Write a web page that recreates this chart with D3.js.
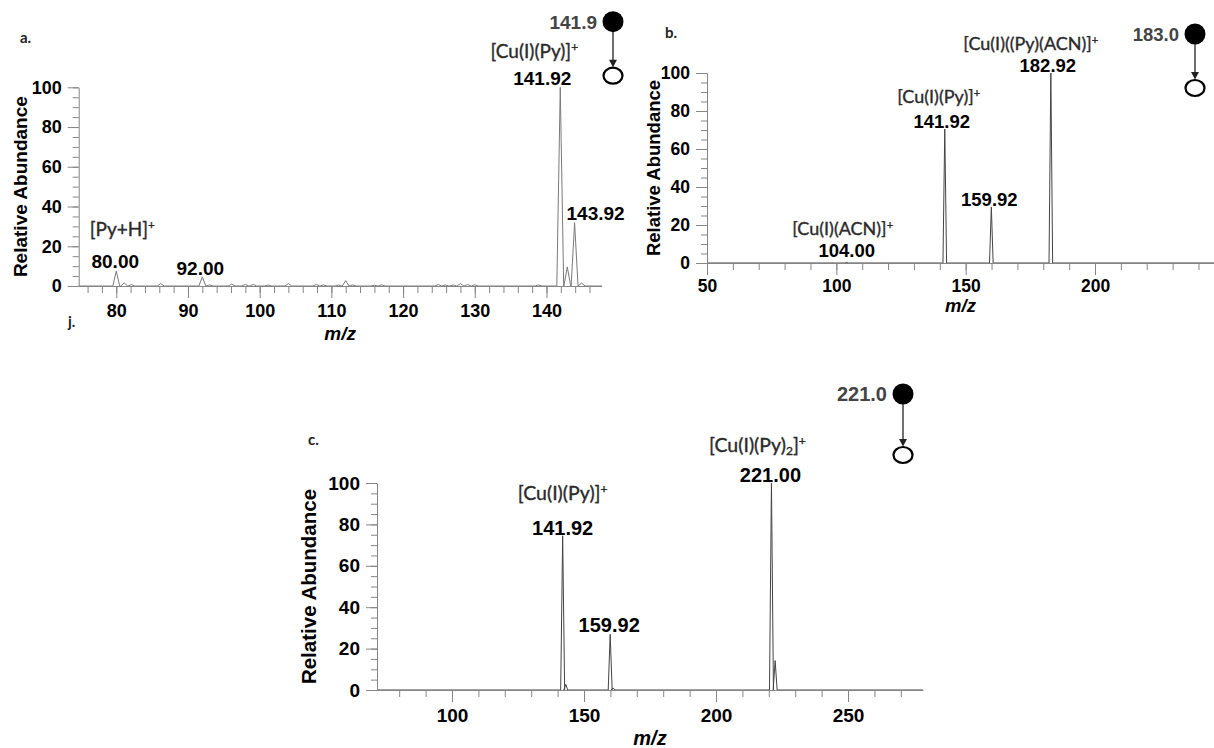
<!DOCTYPE html>
<html>
<head>
<meta charset="utf-8">
<script src="https://cdn.jsdelivr.net/npm/d3@7"></script>
<style>
  body { margin: 0; background: #fff; }
  svg { display: block; }
</style>
</head>
<body>
<svg id="chart" width="1214" height="748"></svg>
<script>
// ---- panel a : MS/MS of m/z 141.9 ----
const mzA = [80.0, 81.1, 82.1, 86.2, 92.0, 93.0, 96.1, 98.0, 99.1, 101.2, 104.0, 107.9, 108.9, 111.0, 112.0, 113.0, 116.0, 117.0, 124.9, 125.9, 127.0, 128.0, 129.0, 130.0, 138.9, 141.92, 142.9, 143.92, 144.9]
const intA = [7.5, 1.5, 0.7, 1.2, 4.6, 0.5, 1.0, 0.8, 0.8, 0.5, 1.2, 0.8, 0.5, 0.5, 2.7, 0.5, 0.4, 0.6, 0.8, 0.5, 0.5, 1.2, 0.8, 0.6, 0.5, 100, 9.6, 31.9, 1.5]
const tagMzA = [80.0, 92.0, 141.92, 143.92]
const tagIntA = [7.5, 4.6, 100, 31.9]
const tagTextA = ['80.00', '92.00', '141.92', '143.92']
const ionTextA = ['[Py+H]^+', '', '[Cu(I)(Py)]^+', '']

// ---- panel b : MS/MS of m/z 183.0 ----
const mzB = [104.0, 141.92, 159.92, 182.92]
const intB = [0.3, 70.5, 29.5, 100]
const tagMzB = [104.0, 141.92, 159.92, 182.92]
const tagIntB = [0.3, 70.5, 29.5, 100]
const tagTextB = ['104.00', '141.92', '159.92', '182.92']
const ionTextB = ['[Cu(I)(ACN)]^+', '[Cu(I)(Py)]^+', '', '[Cu(I)((Py)(ACN)]^+']

// ---- panel c : MS/MS of m/z 221.0 ----
const mzC = [141.92, 143.1, 159.92, 161.0, 221.0, 222.4]
const intC = [74.5, 2.7, 26.9, 1.0, 100, 14.2]
const tagMzC = [141.92, 159.92, 221.0]
const tagIntC = [74.5, 26.9, 100]
const tagTextC = ['141.92', '159.92', '221.00']
const ionTextC = ['[Cu(I)(Py)]^+', '', '[Cu(I)(Py)_2]^+']

const precursors = ['141.9', '183.0', '221.0']
const yTicks = [0, 20, 40, 60, 80, 100]

const svg = d3.select('#chart')
const NUM_FONT = '"Liberation Sans", Arial, sans-serif'
const ION_FONT = 'Lato, "Open Sans", sans-serif'

// text with ^x superscript and _x subscript pieces
function richText (sel, s) {
  s.split(/(\^.|_.)/).filter(p => p !== '').forEach(p => {
    if (p[0] === '^') {
      sel.append('tspan').attr('font-size', '0.62em').attr('baseline-shift', '55%').text(p[1])
    } else if (p[0] === '_') {
      sel.append('tspan').attr('font-size', '0.62em').attr('baseline-shift', '-25%').text(p[1])
    } else {
      sel.append('tspan').text(p)
    }
  })
}

function drawPanel (set) {
  const g = svg.append('g')
  const x = d3.scaleLinear().domain(set.xDomain).range([set.left, set.right])
  const y = d3.scaleLinear().domain([0, 100]).range([set.bottom, set.top])

  // spectrum trace
  const pts = [[set.xDomain[0], 0]]
  set.mz.forEach((m, i) => {
    pts.push([m - set.hw, 0], [m, set.int[i]], [m + set.hw, 0])
  })
  pts.push([set.xDomain[1], 0])
  const line = d3.line().x(d => x(d[0])).y(d => y(d[1]))
  g.append('path')
    .attr('d', line(pts))
    .attr('fill', 'none')
    .attr('stroke', set.traceColor)
    .attr('stroke-width', 1)

  // axes
  const axisColor = '#858585'
  const xMinor = g.append('g')
    .attr('transform', `translate(0,${set.bottom})`)
    .call(d3.axisBottom(x).tickValues(set.xMinor).tickSize(7).tickFormat(''))
  xMinor.select('.domain').remove()
  const xMajor = g.append('g')
    .attr('transform', `translate(0,${set.bottom})`)
    .call(d3.axisBottom(x).tickValues(set.xMajor).tickSize(12).tickSizeOuter(0).tickPadding(set.xPad))
  const yMinor = g.append('g')
    .attr('transform', `translate(${set.left},0)`)
    .call(d3.axisLeft(y).tickValues(d3.range(0, 101, 5)).tickSize(6).tickFormat(''))
  yMinor.select('.domain').remove()
  const yMajor = g.append('g')
    .attr('transform', `translate(${set.left},0)`)
    .call(d3.axisLeft(y).tickValues(yTicks).tickSize(11).tickSizeOuter(0).tickPadding(6))

  g.selectAll('.domain, .tick line').attr('stroke', axisColor).attr('stroke-width', 1)
  ;[xMajor, yMajor].forEach(a => a.selectAll('text')
    .attr('fill', '#000')
    .style('font-family', NUM_FONT)
    .style('font-weight', 'bold')
    .style('font-size', set.tickFont + 'px'))

  // axis titles
  g.append('text')
    .attr('x', (set.left + set.right) / 2)
    .attr('y', set.xTitleY)
    .attr('text-anchor', 'middle')
    .style('font-family', NUM_FONT)
    .style('font-weight', 'bold')
    .style('font-style', 'italic')
    .style('font-size', set.tickFont + 1 + 'px')
    .text('m/z')
  g.append('text')
    .attr('transform', `translate(${set.yTitleX},${(set.top + set.bottom) / 2}) rotate(-90)`)
    .attr('text-anchor', 'middle')
    .attr('dy', '0.36em')
    .style('font-family', NUM_FONT)
    .style('font-weight', 'bold')
    .style('font-size', set.yTitleFont + 'px')
    .text('Relative Abundance')

  // peak labels
  set.tagMz.forEach((m, i) => {
    const off = set.tagOffset[i]
    const tx = x(m) + off[0]
    const ty = y(set.tagInt[i]) + off[1]
    g.append('text')
      .attr('x', tx).attr('y', ty)
      .attr('text-anchor', 'middle')
      .style('font-family', NUM_FONT)
      .style('font-weight', 'bold')
      .style('font-size', set.tagFont + 'px')
      .text(set.tagText[i])
    if (set.ionText[i]) {
      const t = g.append('text')
        .attr('x', tx + off[2]).attr('y', ty - off[3])
        .attr('text-anchor', 'middle')
        .attr('fill', '#2a2a2a')
        .attr('stroke', '#2a2a2a')
        .attr('stroke-width', 0.35)
        .style('font-family', ION_FONT)
        .style('font-size', set.ionFont + 'px')
      richText(t, set.ionText[i])
    }
  })

  // panel letter
  g.append('text')
    .attr('x', set.letterPos[0]).attr('y', set.letterPos[1])
    .style('font-family', ION_FONT)
    .style('font-weight', 'bold')
    .style('font-size', '15px')
    .attr('fill', '#222')
    .text(set.letter)

  // precursor -> product symbol
  const [cx, cy] = set.marker
  g.append('text')
    .attr('x', cx - 16).attr('y', cy)
    .attr('dy', '0.36em')
    .attr('text-anchor', 'end')
    .attr('fill', '#444')
    .style('font-family', NUM_FONT)
    .style('font-weight', 'bold')
    .style('font-size', set.tagFont + 'px')
    .text(set.precursor)
  g.append('circle').attr('cx', cx).attr('cy', cy).attr('r', 10.5).attr('fill', '#000')
  const oy = cy + set.markerGap
  g.append('line')
    .attr('x1', cx).attr('x2', cx)
    .attr('y1', cy + 10).attr('y2', oy - 14)
    .attr('stroke', '#222').attr('stroke-width', 1.3)
  g.append('path')
    .attr('d', `M${cx - 4},${oy - 16}L${cx + 4},${oy - 16}L${cx},${oy - 8.5}Z`)
    .attr('fill', '#222')
  g.append('ellipse')
    .attr('cx', cx).attr('cy', oy).attr('rx', 9.5).attr('ry', 8)
    .attr('fill', '#fff').attr('stroke', '#000').attr('stroke-width', 2.2)
}

drawPanel({
  mz: mzA, int: intA, hw: 0.48, traceColor: '#7a7a7a',
  xDomain: [74.76, 147.7], left: 78.7, right: 601.7, top: 87.3, bottom: 286,
  xMajor: d3.range(80, 141, 10), xMinor: d3.range(76, 147, 2), xPad: 6,
  tickFont: 18, yTitleFont: 19, yTitleX: 20, xTitleY: 340,
  tagMz: tagMzA, tagInt: tagIntA, tagText: tagTextA, ionText: ionTextA,
  tagOffset: [[-1, -3, 7, 32], [-2, -2, 0, 0], [-18, -2, -8, 27], [21, -3, 0, 0]],
  tagFont: 19, ionFont: 19,
  letter: 'a.', letterPos: [20, 43],
  precursor: precursors[0], marker: [613, 21.7], markerGap: 54
})

drawPanel({
  mz: mzB, int: intB, hw: 0.7, traceColor: '#444',
  xDomain: [50, 246], left: 707, right: 1214, top: 73, bottom: 263,
  xMajor: [50, 100, 150, 200], xMinor: d3.range(60, 246, 10), xPad: 5,
  tickFont: 17.5, yTitleFont: 18.5, yTitleX: 653, xTitleY: 312,
  tagMz: tagMzB, tagInt: tagIntB, tagText: tagTextB, ionText: ionTextB,
  tagOffset: [[0, -5, -4, 22], [-3, -1, -3, 25], [-2, -1, 0, 0], [-3, -1, -17, 22]],
  tagFont: 18.5, ionFont: 18,
  letter: 'b.', letterPos: [665, 38],
  precursor: precursors[1], marker: [1195, 34], markerGap: 54
})

drawPanel({
  mz: mzC, int: intC, hw: 0.75, traceColor: '#444',
  xDomain: [71.6, 278.4], left: 377, right: 923, top: 483, bottom: 690,
  xMajor: [100, 150, 200, 250], xMinor: d3.range(80, 278, 10), xPad: 7,
  tickFont: 19, yTitleFont: 20.5, yTitleX: 309, xTitleY: 745,
  tagMz: tagMzC, tagInt: tagIntC, tagText: tagTextC, ionText: ionTextC,
  tagOffset: [[0, -1, 0, 35], [-1, -2, 0, 0], [-1, -1, -13, 30]],
  tagFont: 20, ionFont: 19.5,
  letter: 'c.', letterPos: [308, 445],
  precursor: precursors[2], marker: [903, 394], markerGap: 61
})

// stray label under panel a
svg.append('text')
  .attr('x', 68).attr('y', 327)
  .style('font-family', ION_FONT)
  .style('font-weight', 'bold')
  .style('font-size', '15px')
  .attr('fill', '#222')
  .text('j.')
</script>
</body>
</html>
